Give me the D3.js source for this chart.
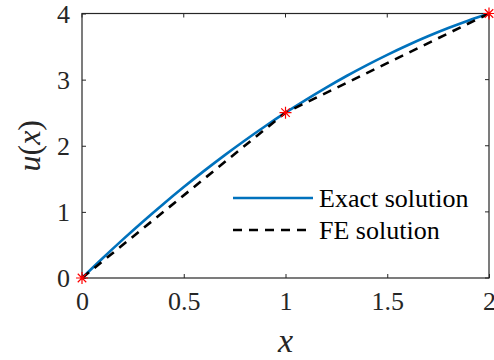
<!DOCTYPE html>
<html>
<head>
<meta charset="utf-8">
<script src="https://cdn.jsdelivr.net/npm/d3@7"></script>
</head>
<body style="margin:0">
<svg id="chart" width="494" height="360" font-family="Times New Roman"></svg>
<script>
// values
var exactX = [0, 0.1, 0.2, 0.3, 0.4, 0.5, 0.6, 0.7, 0.8, 0.9, 1, 1.1, 1.2, 1.3, 1.4, 1.5, 1.6, 1.7, 1.8, 1.9, 2];
var exactU = [0, 0.295, 0.58, 0.855, 1.12, 1.375, 1.62, 1.855, 2.08, 2.295, 2.5, 2.695, 2.88, 3.055, 3.22, 3.375, 3.52, 3.655, 3.78, 3.895, 4];
var nodeX = [0, 1, 2];
var nodeU = [0, 2.5, 4];
var xTicks = [0, 0.5, 1, 1.5, 2];
var yTicks = [0, 1, 2, 3, 4];
var legendLabels = ['Exact solution', 'FE solution'];

var fontName = 'Times New Roman';
var margin = { top: 13.5, right: 5, bottom: 82, left: 82 };
var w = 494 - margin.left - margin.right;
var h = 360 - margin.top - margin.bottom;

var svg = d3.select('#chart');
var g = svg.append('g').attr('transform', 'translate(' + margin.left + ',' + margin.top + ')');

var x = d3.scaleLinear().domain([0, 2]).range([0, w]);
var y = d3.scaleLinear().domain([0, 4]).range([h, 0]);

var axisColor = '#262626';

// axes, ticks pointing inwards
var xAxis = g.append('g').attr('transform', 'translate(0,' + h + ')')
    .call(d3.axisBottom(x).tickValues(xTicks).tickFormat(d3.format('')).tickSizeInner(-4).tickSizeOuter(0).tickPadding(14));
var yAxis = g.append('g')
    .call(d3.axisLeft(y).tickValues(yTicks).tickFormat(d3.format('')).tickSizeInner(-4).tickSizeOuter(0).tickPadding(12));
g.selectAll('.domain').remove();
g.selectAll('.tick line').attr('stroke', axisColor);
g.selectAll('.tick text').attr('fill', axisColor).attr('font-family', fontName).attr('font-size', 26);
xAxis.selectAll('.tick text').attr('dy', '0.71em');
yAxis.selectAll('.tick text').attr('dy', '0.34em');

// box
g.append('rect').attr('x', 0).attr('y', 0).attr('width', w).attr('height', h)
    .attr('fill', 'none').attr('stroke', axisColor).attr('stroke-width', 1.2);

// top / right ticks
g.selectAll('.xt2').data(xTicks).enter().append('line')
    .attr('x1', function (d) { return x(d); }).attr('x2', function (d) { return x(d); })
    .attr('y1', 0).attr('y2', 4).attr('stroke', axisColor);
g.selectAll('.yt2').data(yTicks).enter().append('line')
    .attr('x1', w).attr('x2', w - 4)
    .attr('y1', function (d) { return y(d); }).attr('y2', function (d) { return y(d); }).attr('stroke', axisColor);

var exactData = exactX.map(function (v, i) { return [v, exactU[i]]; });
var nodeData = nodeX.map(function (v, i) { return [v, nodeU[i]]; });

g.append('path').datum(exactData)
    .attr('d', d3.line().x(function (d) { return x(d[0]); }).y(function (d) { return y(d[1]); }).curve(d3.curveMonotoneX))
    .attr('fill', 'none').attr('stroke', '#0072BD').attr('stroke-width', 2.6);
g.append('path').datum(nodeData)
    .attr('d', d3.line().x(function (d) { return x(d[0]); }).y(function (d) { return y(d[1]); }))
    .attr('fill', 'none').attr('stroke', '#000').attr('stroke-width', 2.6).attr('stroke-dasharray', '9,7');

// asterisk markers
var r = 6, k = r * 0.707;
var star = 'M' + (-r) + ',0L' + r + ',0M0,' + (-r) + 'L0,' + r +
    'M' + (-k) + ',' + (-k) + 'L' + k + ',' + k + 'M' + (-k) + ',' + k + 'L' + k + ',' + (-k);
g.selectAll('.marker').data(nodeData).enter().append('path')
    .attr('class', 'marker')
    .attr('d', star)
    .attr('transform', function (d) { return 'translate(' + x(d[0]) + ',' + y(d[1]) + ')'; })
    .attr('fill', 'none').attr('stroke', '#FF0000').attr('stroke-width', 1.2);

// legend
var legend = svg.append('g').attr('transform', 'translate(233,198)');
legend.append('line').attr('x1', 0).attr('x2', 80).attr('y1', 0).attr('y2', 0)
    .attr('stroke', '#0072BD').attr('stroke-width', 2.6);
legend.append('line').attr('x1', 0).attr('x2', 80).attr('y1', 32).attr('y2', 32)
    .attr('stroke', '#000').attr('stroke-width', 2.6).attr('stroke-dasharray', '9,7');
legend.selectAll('text').data(legendLabels).enter().append('text')
    .attr('x', 86).attr('y', function (d, i) { return i * 32 + 9; })
    .attr('font-family', fontName).attr('font-size', 26)
    .attr('fill', '#000').text(function (d) { return d; });

// axis labels
svg.append('text').attr('x', margin.left + w / 2).attr('y', 352).attr('text-anchor', 'middle')
    .attr('font-family', fontName).attr('font-size', 34).attr('font-style', 'italic')
    .attr('fill', '#262626').text('x');
var yl = svg.append('text').attr('transform', 'translate(40,' + (margin.top + h / 2) + ') rotate(-90)')
    .attr('text-anchor', 'middle')
    .attr('font-family', fontName).attr('font-size', 32).attr('fill', '#262626');
yl.append('tspan').attr('font-style', 'italic').text('u');
yl.append('tspan').text('(');
yl.append('tspan').attr('font-style', 'italic').text('x');
yl.append('tspan').text(')');
</script>
</body>
</html>
